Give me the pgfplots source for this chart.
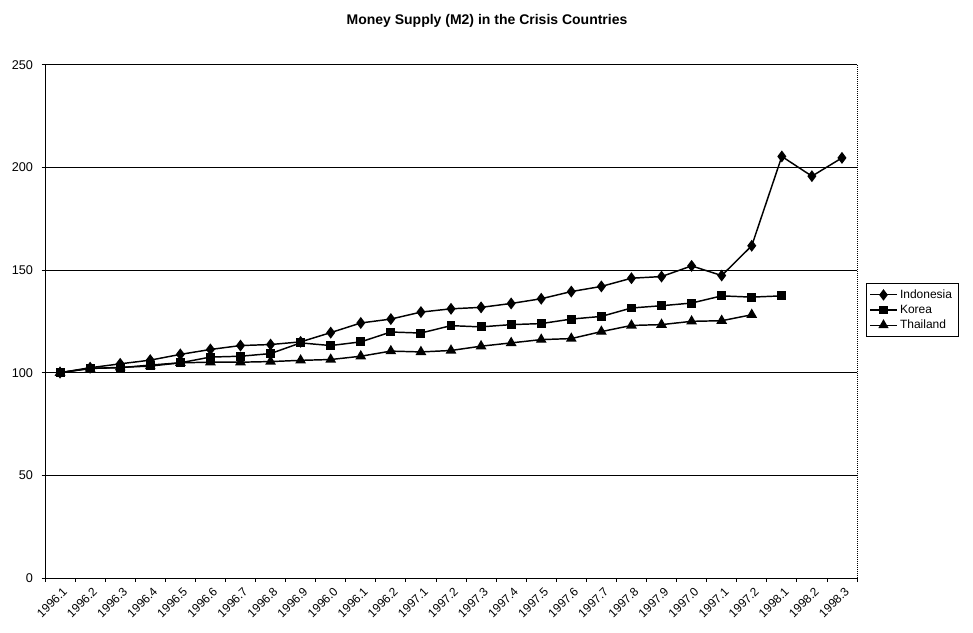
\documentclass[border=0pt]{standalone}
\usepackage{fontspec}
\setmainfont{Liberation Sans}
\usepackage{pgfplots}
\pgfplotsset{compat=1.18}

\begin{document}
\begin{tikzpicture}
% page box, in reference pixels (1px = 0.75pt), axis origin at (45,578)
\useasboundingbox (-33.75pt,-40.5pt) rectangle (696pt,433.5pt);
\begin{axis}[
    at={(0,0)}, anchor=south west,
    scale only axis,
    width=609pt, height=385pt,
    xmin=-0.5, xmax=26.5,
    ymin=0, ymax=250,
    ytick={0,50,...,250},
    ymajorgrids,
    major grid style={black, line width=0.6pt},
    axis x line*=bottom, axis y line*=left,
    axis line style={black, line width=0.7pt},
    tick align=outside,
    xtick={0,...,26},
    major x tick style={draw=none},
    minor xtick={-0.5,0.5,...,26.5},
    minor x tick style={black, line width=0.6pt},
    minor tick length=3pt,
    major y tick style={black, line width=0.6pt},
    major tick length=2.5pt,
    xticklabels={1996.1,1996.2,1996.3,1996.4,1996.5,1996.6,1996.7,1996.8,1996.9,1996.0,
      1996.1,1996.2,1997.1,1997.2,1997.3,1997.4,1997.5,1997.6,1997.7,1997.8,1997.9,1997.0,
      1997.1,1997.2,1998.1,1998.2,1998.3},
    xticklabel style={rotate=45, anchor=north east, font=\fontsize{9}{10}\selectfont, inner sep=0.5pt, xshift=-1pt, yshift=-3pt},
    yticklabel style={font=\fontsize{9.5}{11}\selectfont, xshift=-3pt},
    /pgf/number format/assume math mode=true,
    every axis plot/.append style={black, line width=1.1pt},
    legend style={at={(1.011,0.522)}, anchor=west, draw=black, line width=0.5pt,
      font=\fontsize{9}{10.5}\selectfont, row sep=-0.5pt, inner sep=2.5pt},
    legend image code/.code={
      \draw[mark repeat=2, mark phase=2, line width=0.9pt]
        plot coordinates {(0cm,0cm) (0.35cm,0cm) (0.7cm,0cm)};
    },
    legend cell align=left,
    after end axis/.code={
      \draw[black, line width=0.5pt, densely dotted] (rel axis cs:1,0) -- (rel axis cs:1,1);
    },
  ]
  \addplot[mark=diamond*, mark size=3.6pt, mark options={solid}] coordinates {
    (0,100) (1,102.4) (2,104.3) (3,106.1) (4,108.9) (5,111.3) (6,113.2) (7,113.7)
    (8,115) (9,119.5) (10,124.2) (11,126.1) (12,129.5) (13,131.1) (14,131.8)
    (15,133.7) (16,136) (17,139.5) (18,142) (19,146) (20,146.8) (21,152)
    (22,147.3) (23,161.8) (24,205.3) (25,195.7) (26,204.6)
  };
  \addlegendentry{Indonesia}
  \addplot[mark=square*, mark size=2.8pt, mark options={solid}] coordinates {
    (0,100) (1,102.1) (2,102.4) (3,103.7) (4,104.8) (5,107.6) (6,108) (7,109.3)
    (8,114.5) (9,113.2) (10,115) (11,119.8) (12,119.3) (13,122.9) (14,122.3)
    (15,123.4) (16,123.9) (17,126.1) (18,127.4) (19,131.5) (20,132.6) (21,133.9)
    (22,137.4) (23,136.8) (24,137.4)
  };
  \addlegendentry{Korea}
  \addplot[mark=triangle*, mark size=3.6pt, mark options={solid}] coordinates {
    (0,100) (1,102) (2,102.6) (3,103.2) (4,104.8) (5,105.1) (6,105.1) (7,105.4)
    (8,106) (9,106.4) (10,108) (11,110.5) (12,110.1) (13,110.8) (14,112.9)
    (15,114.5) (16,116.1) (17,116.6) (18,120) (19,123) (20,123.4) (21,125)
    (22,125.3) (23,128.2)
  };
  \addlegendentry{Thailand}
\end{axis}
\node[font=\bfseries\fontsize{10.5}{12}\selectfont] at (331.5pt,418pt) {Money Supply (M2) in the Crisis Countries};
\end{tikzpicture}
\end{document}
